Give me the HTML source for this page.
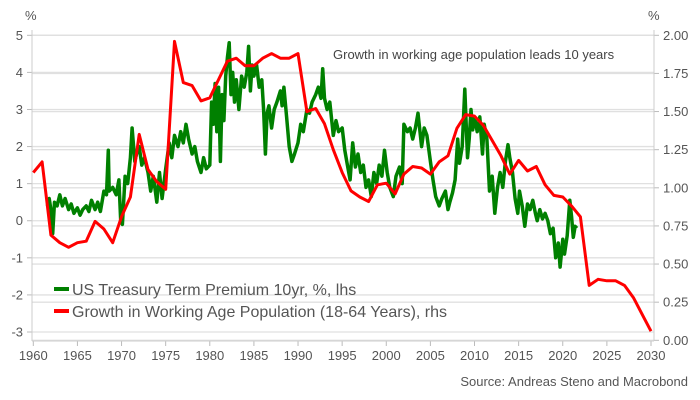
<!DOCTYPE html>
<html><head><meta charset="utf-8">
<style>
html,body{margin:0;padding:0;background:#fff;}
svg{display:block;font-family:"Liberation Sans",sans-serif;}
</style></head>
<body>
<svg id="chart" width="700" height="400" viewBox="0 0 700 400" xmlns="http://www.w3.org/2000/svg">
<g id="grid"></g>
<g id="axes"></g>
<g id="series"></g>
<text x="25" y="20" font-size="13" fill="#555">%</text>
<text x="648" y="20" font-size="13" fill="#555">%</text>
<text x="333" y="59" font-size="13" fill="#444">Growth in working age population leads 10 years</text>
<g>
<line x1="54" y1="289" x2="69" y2="289" stroke="#008000" stroke-width="4"/>
<text x="72" y="295" font-size="16" fill="#555">US Treasury Term Premium 10yr, %, lhs</text>
<line x1="54" y1="311" x2="69" y2="311" stroke="#ff0000" stroke-width="4"/>
<text x="72" y="317" font-size="16" fill="#555">Growth in Working Age Population (18-64 Years), rhs</text>
</g>
<text x="688" y="386" font-size="13" fill="#555" text-anchor="end">Source: Andreas Steno and Macrobond</text>
</svg>
<script>
const xTicks = [1960,1965,1970,1975,1980,1985,1990,1995,2000,2005,2010,2015,2020,2025,2030];
const leftTicks = [5,4,3,2,1,0,-1,-2,-3];
const rightTicks = [2.00,1.75,1.50,1.25,1.00,0.75,0.50,0.25,0.00];
const popYears = [1960,1961,1962,1963,1964,1965,1966,1967,1968,1969,1970,1971,1972,1973,1974,1975,1976,1977,1978,1979,1980,1981,1982,1983,1984,1985,1986,1987,1988,1989,1990,1991,1992,1993,1994,1995,1996,1997,1998,1999,2000,2001,2002,2003,2004,2005,2006,2007,2008,2009,2010,2011,2012,2013,2014,2015,2016,2017,2018,2019,2020,2021,2022,2023,2024,2025,2026,2027,2028,2029,2030];
const popValues = [1.10,1.17,0.69,0.64,0.61,0.64,0.65,0.78,0.73,0.64,0.81,0.94,1.35,1.12,1.04,0.99,1.96,1.69,1.67,1.57,1.59,1.71,1.83,1.85,1.80,1.80,1.85,1.88,1.85,1.85,1.88,1.50,1.52,1.42,1.25,1.10,0.98,0.94,0.91,1.02,1.03,0.96,1.09,1.14,1.13,1.09,1.17,1.21,1.39,1.48,1.47,1.41,1.31,1.21,1.09,1.18,1.11,1.14,1.02,0.95,0.94,0.88,0.81,0.36,0.40,0.39,0.39,0.36,0.28,0.17,0.06];
const tpDates = [1961.6,1961.8,1962.0,1962.2,1962.4,1962.7,1963.0,1963.3,1963.6,1964.0,1964.3,1964.6,1965.0,1965.3,1965.6,1966.0,1966.3,1966.6,1967.0,1967.3,1967.6,1968.0,1968.3,1968.5,1968.6,1969.0,1969.4,1969.7,1969.9,1970.1,1970.4,1970.7,1971.0,1971.2,1971.5,1971.8,1972.0,1972.3,1972.6,1973.0,1973.3,1973.6,1974.0,1974.3,1974.6,1975.0,1975.4,1975.7,1976.0,1976.4,1976.7,1977.0,1977.3,1977.6,1978.0,1978.3,1978.6,1979.0,1979.3,1979.6,1980.0,1980.2,1980.4,1980.6,1980.8,1981.0,1981.2,1981.4,1981.6,1981.8,1982.0,1982.2,1982.4,1982.6,1982.8,1983.0,1983.3,1983.6,1983.9,1984.2,1984.4,1984.6,1984.8,1985.0,1985.3,1985.6,1985.9,1986.1,1986.3,1986.5,1986.7,1987.0,1987.3,1987.6,1988.0,1988.2,1988.4,1988.7,1989.0,1989.3,1989.6,1990.0,1990.3,1990.6,1991.0,1991.3,1991.6,1992.0,1992.3,1992.6,1992.8,1993.0,1993.3,1993.6,1994.0,1994.3,1994.6,1995.0,1995.3,1995.6,1995.9,1996.2,1996.5,1996.8,1997.1,1997.4,1997.7,1998.0,1998.3,1998.6,1998.9,1999.2,1999.5,1999.8,2000.1,2000.4,2000.8,2001.1,2001.5,2001.8,2002.0,2002.4,2002.7,2003.0,2003.3,2003.6,2004.0,2004.3,2004.6,2005.0,2005.3,2005.6,2006.0,2006.3,2006.7,2007.0,2007.2,2007.5,2007.8,2008.1,2008.3,2008.6,2008.9,2009.2,2009.4,2009.6,2009.8,2010.0,2010.3,2010.6,2010.9,2011.1,2011.4,2011.7,2012.0,2012.3,2012.6,2012.9,2013.2,2013.5,2013.8,2014.0,2014.3,2014.6,2014.9,2015.1,2015.4,2015.7,2016.0,2016.3,2016.6,2016.9,2017.1,2017.4,2017.7,2018.0,2018.3,2018.6,2018.9,2019.2,2019.5,2019.7,2020.0,2020.2,2020.5,2020.8,2021.0,2021.2,2021.4,2021.6,2021.8,2022.0,2022.2];
const tpValues = [0.4,0.6,0.3,-0.35,0.5,0.4,0.7,0.4,0.6,0.3,0.45,0.2,0.35,0.15,0.3,0.4,0.25,0.55,0.3,0.5,0.25,0.8,0.7,1.9,0.8,0.9,0.7,1.1,0.0,-0.1,1.2,1.0,1.7,2.5,1.6,1.9,2.0,1.5,1.7,1.3,0.8,1.2,0.5,1.3,0.6,1.4,2.1,1.7,2.3,2.0,2.4,2.1,2.6,2.2,1.8,2.0,1.6,1.3,1.7,1.4,1.5,3.2,2.6,3.7,2.4,3.6,1.6,3.4,2.7,3.9,4.4,4.8,3.4,4.0,3.2,3.8,3.0,3.9,3.6,4.0,4.7,3.5,4.2,3.9,4.2,3.6,3.8,3.0,1.8,2.9,3.1,2.5,3.0,3.2,3.5,3.1,3.6,2.8,2.0,1.6,1.8,2.1,2.6,2.4,3.0,2.9,3.2,3.4,3.6,3.3,4.1,3.3,3.0,3.2,2.3,2.7,2.4,2.5,1.9,1.5,1.1,2.1,1.45,1.8,1.3,1.5,0.9,1.1,0.65,1.3,1.0,1.5,1.2,1.9,1.3,0.9,0.65,1.2,1.45,1.0,2.6,2.4,2.5,2.2,2.5,2.9,2.0,2.5,2.3,1.6,1.1,0.65,0.4,0.6,0.8,0.3,0.5,0.75,1.1,2.2,1.55,2.0,3.55,1.7,2.2,3.0,2.45,2.8,2.4,2.8,1.8,2.6,2.2,0.8,1.2,0.2,0.9,1.3,0.9,1.6,2.05,1.7,1.3,0.6,0.2,0.8,0.4,-0.15,0.45,0.3,0.55,0.2,0.0,0.3,0.05,0.2,0.0,-0.35,-0.2,-1.0,-0.6,-1.25,-0.5,-0.9,-0.4,0.55,0.1,-0.45,-0.15,-0.2];

const X0=33.3, X1=651, Y5=35.3, Ym3=332, R2=35.3, R0=340.3, PL=32, PR=654, PT=30, PB=341;
const xs = y => X0 + (y-1960)*(X1-X0)/70;
const yl = v => Y5 + (5-v)*(Ym3-Y5)/8;
const yr = v => R0 - v*(R0-R2)/2;
const NS="http://www.w3.org/2000/svg";
function mk(tag, attrs, parent){const e=document.createElementNS(NS,tag);for(const k in attrs)e.setAttribute(k,attrs[k]);parent.appendChild(e);return e;}
const grid=document.getElementById('grid'), axes=document.getElementById('axes'), series=document.getElementById('series');

rightTicks.forEach(t=>{
  const l=mk('line',{x1:PL,x2:PR,y1:yr(t),y2:yr(t),stroke:'#e0e0e0','stroke-width':1.3},grid);
  
  
  const tk=mk('line',{x1:PR,x2:PR+5,y1:yr(t),y2:yr(t),stroke:'#bbb'},axes);
  
  
  const tx=mk('text',{x:PR+9,y:yr(t)+4.5,'font-size':13,fill:'#555'},axes);
  tx.textContent=t.toFixed(2);
  
  
});
leftTicks.forEach(t=>{
  const l=mk('line',{x1:PL,x2:PR,y1:yl(t),y2:yl(t),stroke:'#e0e0e0','stroke-width':1.3},grid);
  
  
  const tk=mk('line',{x1:PL-5,x2:PL,y1:yl(t),y2:yl(t),stroke:'#bbb'},axes);
  
  
  const tx=mk('text',{x:PL-9,y:yl(t)+4.5,'font-size':13,fill:'#555','text-anchor':'end'},axes);
  tx.textContent=String(t);
  
  
});
xTicks.forEach(t=>{
  const tk=mk('line',{x1:xs(t),x2:xs(t),y1:PB,y2:PB+5,stroke:'#bbb'},axes);
  
  
  const tx=mk('text',{x:xs(t),y:PB+19,'font-size':13,fill:'#555','text-anchor':'middle'},axes);
  tx.textContent=String(t);
  
  
});
const la=mk('line',{x1:PL,x2:PL,y1:PT,y2:PB,stroke:'#ccc'},axes);


const ra=mk('line',{x1:PR,x2:PR,y1:PT,y2:PB,stroke:'#ccc'},axes);


const ba=mk('line',{x1:PL,x2:PR,y1:PB,y2:PB,stroke:'#ccc'},axes);



const gp=mk('polyline',{points:tpDates.map((d,i)=>xs(d).toFixed(1)+','+yl(tpValues[i]).toFixed(1)).join(' '),fill:'none',stroke:'#008000','stroke-width':3.5,'stroke-linejoin':'round'},series);


const rp=mk('polyline',{points:popYears.map((d,i)=>xs(d).toFixed(1)+','+yr(popValues[i]).toFixed(1)).join(' '),fill:'none',stroke:'#ff0000','stroke-width':3,'stroke-linejoin':'round'},series);


</script>
</body></html>
